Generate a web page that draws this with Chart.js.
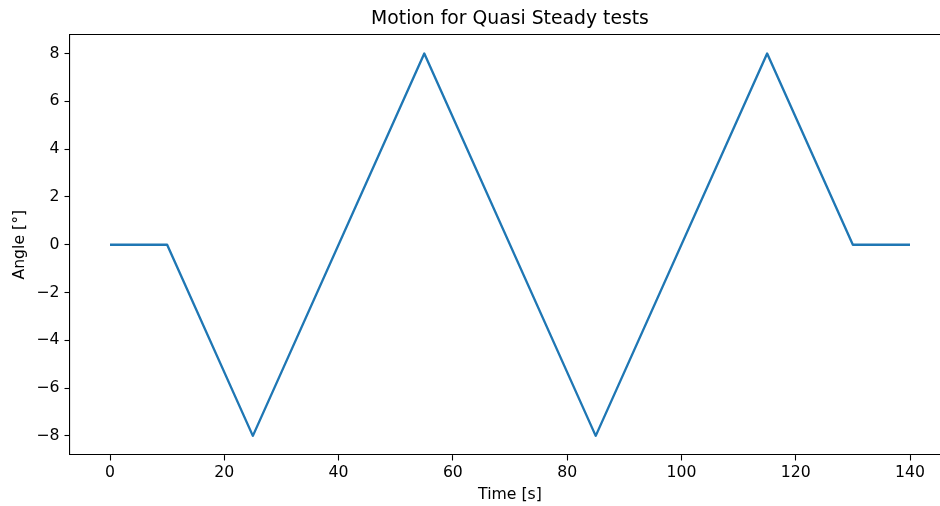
<!DOCTYPE html>
<html>
<head>
<meta charset="utf-8">
<script src="https://cdn.jsdelivr.net/npm/chart.js@4.4.0/dist/chart.umd.min.js"></script>
<style>
html,body{margin:0;padding:0;background:#fff;overflow:hidden;width:940px;height:506px;}
#wrap{width:960px;height:506px;}
</style>
</head>
<body>
<div id="wrap"><canvas id="c" width="960" height="506"></canvas></div>
<script>
const timeValues = [0, 10, 25, 55, 85, 115, 130, 140];
const angleValues = [0, 0, -8, 8, -8, 8, 0, 0];
const xTickValues = [0, 20, 40, 60, 80, 100, 120, 140];
const yTickValues = [-8, -6, -4, -2, 0, 2, 4, 6, 8];

const FONT = "'DejaVu Sans', sans-serif";
const fmt = v => String(v).replace('-', '\u2212');

const topSpine = {
  id: 'topSpine',
  afterDraw(chart) {
    const {ctx, chartArea} = chart;
    ctx.save();
    ctx.strokeStyle = '#000';
    ctx.lineWidth = 1.1;
    ctx.beginPath();
    ctx.moveTo(chartArea.left, Math.round(chartArea.top) + 0.5);
    ctx.lineTo(chartArea.right, Math.round(chartArea.top) + 0.5);
    ctx.moveTo(Math.round(chartArea.right) + 0.5, chartArea.top);
    ctx.lineTo(Math.round(chartArea.right) + 0.5, chartArea.bottom);
    ctx.stroke();
    ctx.restore();
  }
};

new Chart(document.getElementById('c'), {
  type: 'line',
  data: {
    datasets: [{
      data: timeValues.map((t, i) => ({x: t, y: angleValues[i]})),
      borderColor: '#1f77b4',
      borderWidth: 2.35,
      pointRadius: 0,
      tension: 0,
      fill: false,
      borderJoinStyle: 'round',
      borderCapStyle: 'butt'
    }]
  },
  options: {
    responsive: false,
    animation: false,
    devicePixelRatio: 1,
    layout: {padding: {left: 0, right: 10, top: 0, bottom: 0}},
    plugins: {
      legend: {display: false},
      tooltip: {enabled: false},
      title: {
        display: true,
        text: 'Motion for Quasi Steady tests',
        fullSize: false,
        color: '#000',
        font: {family: FONT, size: 18.8, weight: 'normal', lineHeight: 1.2},
        padding: {top: 8, bottom: 3.9}
      }
    },
    scales: {
      x: {
        type: 'linear',
        min: -7,
        max: 147,
        afterBuildTicks: s => { s.ticks = xTickValues.map(v => ({value: v})); },
        afterFit: s => { s.height = 51; },
        grid: {drawOnChartArea: false, drawTicks: true, tickLength: 5.5, tickColor: '#000', tickWidth: 1.1},
        border: {display: true, color: '#000', width: 1.1},
        ticks: {color: '#000', font: {family: FONT, size: 15.7}, padding: 3, maxRotation: 0, callback: v => fmt(v)},
        title: {display: true, text: 'Time [s]', color: '#000', font: {family: FONT, size: 15.7}, padding: {top: 2, bottom: 2}}
      },
      y: {
        type: 'linear',
        min: -8.8,
        max: 8.8,
        afterBuildTicks: s => { s.ticks = yTickValues.map(v => ({value: v})); },
        afterFit: s => { s.width = 70; },
        grid: {drawOnChartArea: false, drawTicks: true, tickLength: 5.5, tickColor: '#000', tickWidth: 1.1},
        border: {display: true, color: '#000', width: 1.1},
        ticks: {color: '#000', font: {family: FONT, size: 15.7}, padding: 5, callback: v => fmt(v)},
        title: {display: true, text: 'Angle [\u00b0]', color: '#000', font: {family: FONT, size: 15.7}, padding: {top: 11, bottom: 4}}
      }
    }
  },
  plugins: [topSpine]
});
</script>
</body>
</html>
